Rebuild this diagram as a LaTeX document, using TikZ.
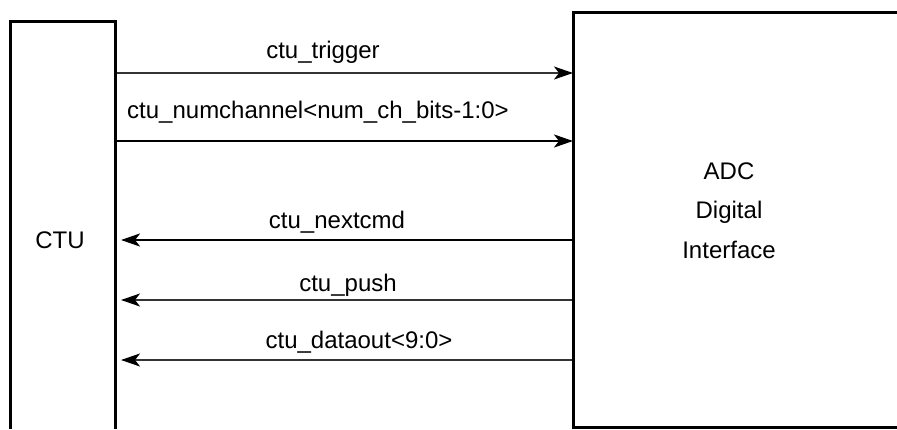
\documentclass[tikz,border=0pt]{standalone}
\usepackage{fontspec}
\setmainfont{Liberation Sans}
\usetikzlibrary{arrows.meta}
\tikzset{
  boxline/.style={line width=3pt, line join=miter, black},
  sig/.style={line width=1.6pt, black!80, -{Stealth[length=19pt, width=13pt, inset=5pt, black]}},
  sigbold/.style={line width=2.5pt, black, -{Stealth[length=19pt, width=13pt, inset=5pt]}},
  lbl/.style={anchor=base, inner sep=0pt, font=\fontsize{24}{28}\selectfont},
  blk/.style={inner sep=0pt, font=\fontsize{24}{28}\selectfont, align=center}
}
\begin{document}
\begin{tikzpicture}[x=1pt, y=-1pt]
\useasboundingbox (0,0) rectangle (897,429);
% open boxes
\draw[boxline] (10,429) -- (10,21) -- (115,21) -- (115,429);
\draw[boxline] (897,12) -- (573,12) -- (573,427) -- (897,427);
\node[blk] (ctu) at (60,240) {CTU};
\node[blk, anchor=base] (adc1) at (729,179) {ADC};
\node[blk, anchor=base] (adc2) at (729,218) {Digital};
\node[blk, anchor=base] (adc3) at (729,258) {Interface};
% connector end points
\coordinate (a1) at (116.5,73);  \coordinate (b1) at (573,73);
\coordinate (a2) at (116.5,141); \coordinate (b2) at (573,141);
\coordinate (a3) at (121,240);   \coordinate (b3) at (571.5,240);
\coordinate (a4) at (121,300);   \coordinate (b4) at (571.5,300);
\coordinate (a5) at (121,360);   \coordinate (b5) at (571.5,360);
\draw[sig] (a1) -- (b1);
\draw[sigbold] (a2) -- (b2);
\draw[sigbold] (b3) -- (a3);
\draw[sig] (b4) -- (a4);
\draw[sig] (b5) -- (a5);
% labels
\node[lbl] (l1) at (323,58) {ctu\_trigger};
\node[lbl] (l2) at (318,118) {ctu\_numchannel<num\_ch\_bits-1:0>};
\node[lbl] (l3) at (337,228) {ctu\_nextcmd};
\node[lbl] (l4) at (348,291) {ctu\_push};
\node[lbl] (l5) at (359,348) {ctu\_dataout<9:0>};
\end{tikzpicture}
\end{document}
